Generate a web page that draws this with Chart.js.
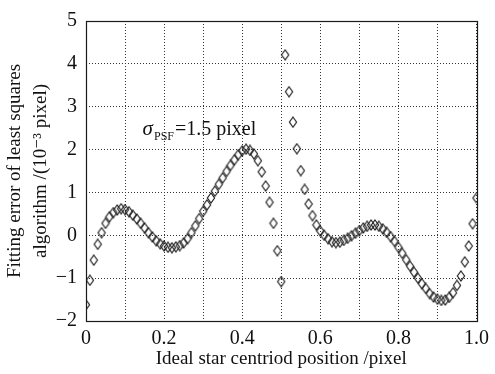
<!DOCTYPE html>
<html>
<head>
<meta charset="utf-8">
<script src="https://cdn.jsdelivr.net/npm/chart.js@4/dist/chart.umd.min.js"></script>
<style>
    html, body { margin: 0; padding: 0; background: #fff; }
    #wrap { position: relative; width: 495px; height: 374px; }
</style>
</head>
<body>
<div id="wrap"><canvas id="myChart"></canvas></div>
<script>
/*
    Fitting error of the least squares centroid algorithm
    versus ideal star centroid position (sampled every 0.01 pixel)
*/

const step = 0.01;      // spacing of the ideal centroid positions (pixel)

// fitting error, in 10^-3 pixel, one value per position 0.00 ... 1.00
const fitError = [
    -1.62, -1.05, -0.58, -0.21, 0.06, 0.28, 0.43, 0.53, 0.59, 0.62,
    0.60, 0.55, 0.47, 0.38, 0.28, 0.17, 0.06, -0.04, -0.13, -0.20,
    -0.25, -0.28, -0.29, -0.27, -0.24, -0.18, -0.08, 0.06, 0.22, 0.39,
    0.56, 0.71, 0.87, 1.03, 1.19, 1.34, 1.49, 1.63, 1.76, 1.88,
    1.97, 2.01, 1.98, 1.90, 1.74, 1.48, 1.15, 0.77, 0.28, -0.36,
    -1.08, 4.21, 3.35, 2.64, 2.02, 1.51, 1.07, 0.73, 0.46, 0.24,
    0.10, 0.00, -0.08, -0.15, -0.17, -0.16, -0.12, -0.07, -0.01, 0.05,
    0.11, 0.17, 0.21, 0.24, 0.24, 0.21, 0.15, 0.07, -0.03, -0.14,
    -0.28, -0.42, -0.57, -0.72, -0.86, -1.00, -1.13, -1.24, -1.36, -1.44,
    -1.49, -1.52, -1.51, -1.45, -1.34, -1.17, -0.95, -0.62, -0.25, 0.27,
    0.87
];

const xTickLabels = ['0', '0.2', '0.4', '0.6', '0.8', '1.0'];   // shown every 0.2
const yTickLabels = ['\u22122', '\u22121', '0', '1', '2', '3', '4', '5'];

const serif = '"Liberation Serif", "DejaVu Serif", serif';

// hollow diamond marker, a bit taller than wide
function diamond() {
    const c = document.createElement('canvas');
    c.width = 10;
    c.height = 12;
    const g = c.getContext('2d');
    g.strokeStyle = '#222';
    g.lineWidth = 1.2;
    g.beginPath();
    g.moveTo(5, 1);
    g.lineTo(8.6, 6);
    g.lineTo(5, 11);
    g.lineTo(1.4, 6);
    g.closePath();
    g.stroke();
    return c;
}

// full solid box around the plot area
const frame = {
    id: 'frame',
    afterDraw(chart) {
        const {ctx, chartArea: a} = chart;
        ctx.save();
        ctx.setLineDash([]);
        ctx.strokeStyle = '#1a1a1a';
        ctx.lineWidth = 1.2;
        ctx.strokeRect(Math.round(a.left) + 0.5, Math.round(a.top) + 0.5,
                       Math.round(a.right - a.left), Math.round(a.bottom - a.top));
        ctx.restore();
    }
};

// sigma_PSF = 1.5 pixel label inside the plot
const sigmaLabel = {
    id: 'sigmaLabel',
    afterDraw(chart) {
        const {ctx} = chart;
        const x0 = chart.scales.x.getPixelForValue(0.145);
        const y0 = chart.scales.y.getPixelForValue(2.33);
        ctx.save();
        ctx.fillStyle = '#111';
        ctx.textBaseline = 'alphabetic';
        ctx.font = 'italic 21px ' + serif;
        ctx.fillText('\u03c3', x0, y0);
        let x = x0 + ctx.measureText('\u03c3').width + 1;
        ctx.font = '12px ' + serif;
        ctx.fillText('PSF', x, y0 + 5);
        x += ctx.measureText('PSF').width + 1;
        ctx.font = '20px ' + serif;
        ctx.fillText('=1.5 pixel', x, y0);
        ctx.restore();
    }
};

const points = fitError.map((v, i) => ({x: i * step, y: v}));

const ctx = document.getElementById('myChart');
const myChart = new Chart(ctx, {
    type: 'scatter',
    data: {
        datasets: [{
            label: 'Fitting error',
            data: points,
            pointStyle: diamond(),
            pointRadius: 5,
            borderColor: '#222',
            backgroundColor: 'transparent'
        }]
    },
    options: {
        responsive: true,
        maintainAspectRatio: false,
        animation: false,
        layout: {
            padding: {left: 0, top: 12, right: 16, bottom: 0}
        },
        plugins: {
            legend: {display: false},
            tooltip: {enabled: false}
        },
        scales: {
            x: {
                type: 'linear',
                min: 0,
                max: 1,
                afterFit: scale => { scale.height = 53; },
                border: {display: false, dash: [1, 2]},     // dash also applies to the grid lines
                grid: {
                    color: '#333',
                    lineWidth: 1,
                    drawTicks: false
                },
                ticks: {
                    stepSize: 0.1,
                    autoSkip: false,
                    maxRotation: 0,
                    padding: 6,
                    color: '#111',
                    font: {family: serif, size: 20},
                    callback: function(val, index) {
                        return index % 2 === 0 ? xTickLabels[index / 2] : '';
                    }
                },
                title: {
                    display: true,
                    text: 'Ideal star centriod position /pixel',
                    color: '#111',
                    font: {family: serif, size: 19},
                    padding: {top: 0, bottom: 4}
                }
            },
            y: {
                type: 'linear',
                min: -2,
                max: 5,
                afterFit: scale => { scale.width = 86; },
                border: {display: false, dash: [1, 2]},
                grid: {
                    color: '#333',
                    lineWidth: 1,
                    drawTicks: false
                },
                ticks: {
                    stepSize: 1,
                    padding: 9,
                    color: '#111',
                    font: {family: serif, size: 20},
                    callback: function(val, index) {
                        return yTickLabels[index];
                    }
                },
                title: {
                    display: true,
                    text: ['Fitting error of least squares', 'algorithm /(10\u207b\u00b3 pixel)'],
                    color: '#111',
                    font: {family: serif, size: 19, lineHeight: 1.37},
                    padding: {top: 2, bottom: 0}
                }
            }
        }
    },
    plugins: [frame, sigmaLabel]
});
</script>
</body>
</html>
